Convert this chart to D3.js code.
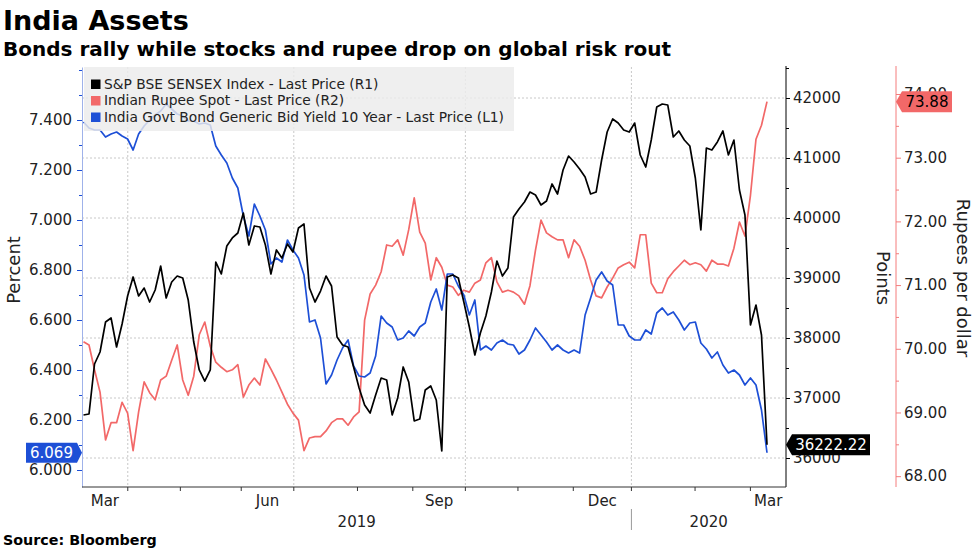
<!DOCTYPE html>
<html><head><meta charset="utf-8">
<script src="https://cdn.jsdelivr.net/npm/d3@7"></script>
<style>
body{margin:0;background:#fff;}
svg{display:block;font-family:"DejaVu Sans",sans-serif;}
</style>
</head><body>
<svg id="c" width="977" height="549"></svg>
<script>
// ---------- DATA ----------
// S&P BSE SENSEX (R1), sampled every ~2 trading days, Mar 2019 - 9 Mar 2020
const sensex = [
36717,36733,37567,37767,38267,38333,37850,38233,38700,39017,
38700,38833,38600,38800,39200,38667,38933,39033,39000,38633,
37933,37467,37283,37467,39267,39067,39533,39667,39750,40083,
39550,39867,39850,39550,39067,39467,39333,39567,39433,39833,
39900,38833,38600,38783,39033,38867,38017,37883,37850,37517,
37167,36883,36750,37050,37333,37300,36717,37000,37517,37267,
36617,36650,37133,37200,36967,36117,39017,39050,39000,38600,
38183,37717,38083,38367,38767,39283,39033,39167,40017,40150,
40267,40433,40383,40217,40283,40567,40400,40800,41033,40933,
40817,40683,40400,40433,40967,41433,41650,41583,41467,41433,
41583,41050,40850,41300,41850,41900,41883,41350,41450,41300,
41200,40667,39800,41167,41133,41267,41450,41050,41300,40467,
40050,38217,38550,38050,36222.22];
// Indian Rupee spot (R2)
const rupee = [
70.11,70.06,69.67,69.32,68.57,68.84,68.84,69.16,68.99,68.40,
69.01,69.48,69.31,69.20,69.51,69.57,69.82,70.06,69.51,69.27,
69.57,70.22,70.42,70.04,69.79,69.71,69.64,69.67,69.75,69.24,
69.43,69.54,69.43,69.84,69.68,69.51,69.32,69.13,68.99,68.88,
68.40,68.60,68.62,68.62,68.71,68.84,68.90,68.90,68.80,68.93,
69.01,70.45,70.86,71.00,71.21,71.63,71.61,71.71,71.47,71.87,
72.37,71.83,71.66,71.08,71.43,71.28,71.00,70.97,70.84,70.92,
70.89,71.03,71.08,71.35,71.43,71.05,70.89,70.92,70.89,70.83,
70.70,70.99,71.55,72.02,71.82,71.76,71.71,71.71,71.43,71.71,
71.61,71.39,71.08,70.83,70.80,70.97,71.11,71.27,71.32,71.36,
71.27,71.79,71.79,71.03,70.88,70.88,71.10,71.21,71.30,71.39,
71.32,71.35,71.32,71.22,71.39,71.33,71.33,71.30,71.58,71.99,
71.77,72.41,73.29,73.51,73.88];
// India Govt Bond 10Y yield (L1)
const bondYield = [
7.392,7.368,7.360,7.360,7.332,7.344,7.352,7.336,7.324,7.280,
7.344,7.376,7.400,7.420,7.436,7.464,7.444,7.424,7.416,7.396,
7.396,7.384,7.388,7.380,7.296,7.260,7.228,7.168,7.128,7.016,
6.936,7.064,7.016,6.960,6.824,6.848,6.832,6.920,6.880,6.848,
6.780,6.592,6.600,6.528,6.344,6.380,6.440,6.488,6.520,6.416,
6.376,6.372,6.388,6.456,6.616,6.588,6.572,6.520,6.528,6.556,
6.536,6.572,6.588,6.672,6.724,6.640,6.784,6.784,6.736,6.700,
6.620,6.680,6.480,6.496,6.480,6.508,6.520,6.504,6.500,6.464,
6.480,6.520,6.568,6.540,6.512,6.480,6.500,6.480,6.468,6.480,
6.468,6.620,6.688,6.760,6.792,6.756,6.740,6.580,6.580,6.536,
6.520,6.520,6.560,6.544,6.628,6.648,6.620,6.632,6.600,6.560,
6.588,6.592,6.508,6.484,6.448,6.472,6.420,6.388,6.400,6.380,
6.340,6.368,6.340,6.240,6.069];

const tradingDays = 248;            // trading days shown
const monthNames = ["Apr","May","Jun","Jul","Aug","Sep","Oct","Nov","Dec","Jan","Feb","Mar"];
const monthStartDay = [16,35,57,76,99,119,138,157,177,198,221,241];
const quarterMonths = ["Apr","Jul","Oct","Jan"];
const labelMonths = ["Mar","Jun","Sep","Dec","Mar"];
const years = ["2019","2020"];

const leftMajor = [6.0,6.2,6.4,6.6,6.8,7.0,7.2,7.4];
const leftMinor = [6.1,6.3,6.5,6.7,6.9,7.1,7.3,7.5,7.6];
const r1Major = [36000,37000,38000,39000,40000,41000,42000];
const r1Minor = [36500,37500,38500,39500,40500,41500,42500];
const r2Major = [68,69,70,71,72,73,74];
const r2Minor = [68.5,69.5,70.5,71.5,72.5,73.5];

const seriesNames = [
 "S&P BSE SENSEX Index - Last Price (R1)",
 "Indian Rupee Spot - Last Price (R2)",
 "India Govt Bond Generic Bid Yield 10 Year - Last Price (L1)"];

// ---------- LAYOUT ----------
const plot = {left:82, right:786, top:67, bottom:487};
const C = {black:"#000000", red:"#f26868", blue:"#1d4fd6", text:"#222"};
const svg = d3.select("#c");

const x = d3.scaleLinear().domain([0, tradingDays-1]).range([83.5, 767]);
const yL = d3.scaleLinear().domain([5.932, 7.612]).range([plot.bottom, plot.top]);
const yR1 = d3.scaleLinear().domain([35516.7, 42516.7]).range([plot.bottom, plot.top]);
const yR2 = d3.scaleLinear().domain([67.830, 74.424]).range([plot.bottom, plot.top]);
const dayAt = (i, n) => i * (tradingDays - 1) / (n - 1);

// Titles
svg.append("text").attr("x",3).attr("y",30).attr("font-size",27).attr("font-weight","bold")
  .attr("fill","#000").text("India Assets");
svg.append("text").attr("x",3).attr("y",56).attr("font-size",20).attr("font-weight","bold")
  .attr("fill","#000").text("Bonds rally while stocks and rupee drop on global risk rout");
svg.append("text").attr("x",3).attr("y",545).attr("font-size",14.3).attr("font-weight","bold")
  .attr("fill","#000").text("Source: Bloomberg");

// Gridlines
const grid = svg.append("g");
grid.selectAll("line.h").data(r1Major).join("line")
  .attr("x1",plot.left).attr("x2",plot.right)
  .attr("y1",d=>yR1(d)).attr("y2",d=>yR1(d))
  .attr("stroke","#c8c8c8").attr("stroke-dasharray","2,2");
const qDays = monthNames.map((m,i)=>({m,d:monthStartDay[i]})).filter(o=>quarterMonths.includes(o.m));
grid.selectAll("line.v").data(qDays).join("line")
  .attr("x1",d=>x(d.d)).attr("x2",d=>x(d.d))
  .attr("y1",plot.top).attr("y2",plot.bottom)
  .attr("stroke","#c8c8c8").attr("stroke-dasharray","2,2");

// Lines
function drawLine(data, yScale, color){
  const line = d3.line().x((d,i)=>x(dayAt(i,data.length))).y(d=>yScale(d));
  svg.append("path").datum(data).attr("d",line).attr("fill","none")
    .attr("stroke",color).attr("stroke-width",1.7).attr("stroke-linejoin","round");
}
drawLine(rupee, yR2, C.red);
drawLine(bondYield, yL, C.blue);
drawLine(sensex, yR1, C.black);

// Legend
const lg = svg.append("g");
lg.append("rect").attr("x",84).attr("y",67).attr("width",430).attr("height",64)
  .attr("fill","#ececec").attr("fill-opacity",0.82);
const lgColors = [C.black, C.red, C.blue];
seriesNames.forEach((s,i)=>{
  const cy = 84 + i*16.5;
  lg.append("rect").attr("x",91).attr("y",cy-4.5).attr("width",9.5).attr("height",9.5).attr("fill",lgColors[i]);
  lg.append("text").attr("x",104).attr("y",cy).attr("dy","0.36em").attr("font-size",13.8)
    .attr("fill",C.text).text(s);
});

// Axes styling helper
function styleAxis(g, lineColor, tickColor){
  g.attr("font-family",null).attr("font-size",null);
  g.select(".domain").attr("stroke",lineColor);
  g.selectAll(".tick line").attr("stroke",tickColor);
  g.selectAll(".tick text").attr("fill",C.text).attr("font-size",15).attr("font-family","DejaVu Sans");
}
// Left axis
const gL = svg.append("g").attr("transform",`translate(${plot.left},0)`)
  .call(d3.axisLeft(yL).tickValues(leftMajor).tickFormat(d3.format(".3f")).tickSize(5).tickPadding(5).tickSizeOuter(0));
styleAxis(gL, "#9fb2ea", C.blue);
const gLm = svg.append("g").attr("transform",`translate(${plot.left},0)`)
  .call(d3.axisLeft(yL).tickValues(leftMinor).tickFormat("").tickSize(3).tickSizeOuter(0));
gLm.select(".domain").remove(); gLm.selectAll(".tick line").attr("stroke",C.blue);

// Right axis R1
const gR1 = svg.append("g").attr("transform",`translate(${plot.right},0)`)
  .call(d3.axisRight(yR1).tickValues(r1Major).tickFormat(d3.format("d")).tickSize(4).tickPadding(3).tickSizeOuter(0));
styleAxis(gR1, "#000", "#000");
gR1.select(".domain").attr("d",`M0,${plot.top-1}V${plot.bottom}`);
const gR1m = svg.append("g").attr("transform",`translate(${plot.right},0)`)
  .call(d3.axisRight(yR1).tickValues(r1Minor).tickFormat("").tickSize(3).tickSizeOuter(0));
gR1m.select(".domain").remove(); gR1m.selectAll(".tick line").attr("stroke","#000");

// Right axis R2
const r2x = 896;
const gR2 = svg.append("g").attr("transform",`translate(${r2x},0)`)
  .call(d3.axisRight(yR2).tickValues(r2Major).tickFormat(d3.format(".2f")).tickSize(5).tickPadding(3).tickSizeOuter(0));
styleAxis(gR2, "#f47c7c", "#f47c7c");
gR2.select(".domain").attr("d",`M0,${plot.top-1}V${plot.bottom}`);
const gR2m = svg.append("g").attr("transform",`translate(${r2x},0)`)
  .call(d3.axisRight(yR2).tickValues(r2Minor).tickFormat("").tickSize(3).tickSizeOuter(0));
gR2m.select(".domain").remove(); gR2m.selectAll(".tick line").attr("stroke","#f47c7c");

// X axis
const gX = svg.append("g");
gX.append("line").attr("x1",plot.left).attr("x2",plot.right).attr("y1",plot.bottom).attr("y2",plot.bottom)
  .attr("stroke","#333");
gX.selectAll("line.t").data(monthStartDay).join("line")
  .attr("x1",d=>x(d)).attr("x2",d=>x(d)).attr("y1",plot.bottom).attr("y2",plot.bottom+4).attr("stroke","#333");
const bounds = [plot.left, ...monthStartDay.map(d=>x(d)), plot.right];
const labelIdx = [0, 3, 6, 9, 12];
labelIdx.forEach((mi,j)=>{
  const cx = (bounds[mi]+bounds[mi+1])/2;
  gX.append("text").attr("x",cx).attr("y",506).attr("text-anchor","middle")
    .attr("font-size",15).attr("fill",C.text).text(labelMonths[j]);
});
const janX = x(monthStartDay[monthNames.indexOf("Jan")]);
gX.append("text").attr("x",(plot.left+janX)/2).attr("y",527).attr("text-anchor","middle")
  .attr("font-size",15).attr("fill",C.text).text(years[0]);
gX.append("text").attr("x",(janX+plot.right)/2).attr("y",527).attr("text-anchor","middle")
  .attr("font-size",15).attr("fill",C.text).text(years[1]);
gX.append("line").attr("x1",janX).attr("x2",janX).attr("y1",509).attr("y2",530).attr("stroke","#999");

// Axis titles
svg.append("text").attr("transform",`translate(20,270) rotate(-90)`).attr("text-anchor","middle")
  .attr("font-size",18).attr("fill",C.text).text("Percent");
svg.append("text").attr("transform",`translate(877,278) rotate(90)`).attr("text-anchor","middle")
  .attr("font-size",18).attr("fill",C.text).text("Points");
svg.append("text").attr("transform",`translate(957,278) rotate(90)`).attr("text-anchor","middle")
  .attr("font-size",18).attr("fill",C.text).text("Rupees per dollar");

// Last-value tags
function tagLeft(tipX, y, w, fill, textColor, txt){ // arrow pointing left
  const h = 21, a = 6;
  svg.append("path").attr("d",`M${tipX},${y} L${tipX+a},${y-h/2} H${tipX+a+w} V${y+h/2} H${tipX+a} Z`).attr("fill",fill);
  svg.append("text").attr("x",tipX+a+w/2).attr("y",y).attr("dy","0.36em").attr("text-anchor","middle")
    .attr("font-size",15).attr("fill",textColor).text(txt);
}
function tagRight(tipX, y, w, fill, textColor, txt){ // arrow pointing right
  const h = 20, a = 5;
  svg.append("path").attr("d",`M${tipX},${y} L${tipX-a},${y-h/2} H${tipX-a-w} V${y+h/2} H${tipX-a} Z`).attr("fill",fill);
  svg.append("text").attr("x",tipX-a-w/2).attr("y",y).attr("dy","0.36em").attr("text-anchor","middle")
    .attr("font-size",15).attr("fill",textColor).text(txt);
}
const lastY = bondYield[bondYield.length-1], lastR = rupee[rupee.length-1], lastS = sensex[sensex.length-1];
tagRight(plot.left, yL(lastY), 51, C.blue, "#fff", d3.format(".3f")(lastY));
tagLeft(r2x, yR2(lastR), 50, C.red, "#000", d3.format(".2f")(lastR));
tagLeft(plot.right, yR1(lastS), 78, "#000", "#fff", d3.format(".2f")(lastS));
</script>
</body></html>
